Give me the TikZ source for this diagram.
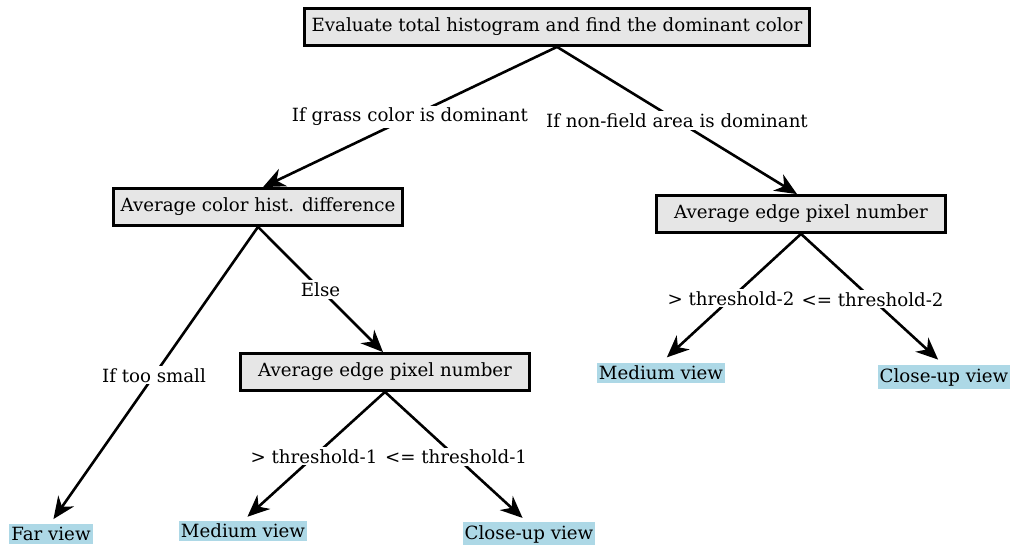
\documentclass[tikz,border=0pt]{standalone}
\usepackage{fontspec}
\setmainfont{DejaVu Serif}
\usetikzlibrary{arrows.meta}
\definecolor{boxgray}{HTML}{E6E6E6}
\definecolor{leafblue}{HTML}{ADD8E6}
\begin{document}
\begin{tikzpicture}[x=1pt,y=-1pt,
  font=\fontsize{18.2}{21}\selectfont,
  decision/.style={draw=black, line width=2.8pt, fill=boxgray, minimum height=37pt, inner xsep=7pt, inner ysep=2pt},
  leaf/.style={fill=leafblue, inner xsep=2pt, inner ysep=3pt},
  branch/.style={line width=2.6pt, -{Stealth[length=22pt,width=19pt,inset=7pt]}},
  cond/.style={fill=white, inner sep=2pt, pos=0.5}]
\useasboundingbox (0,0) rectangle (1011,545);

% decision boxes
\node[decision] (root)  at (557,27)  {Evaluate total histogram and find the dominant color};
\node[decision] (hist)  at (258,207) {Average color hist. difference};
\node[decision, minimum width=289pt] (edgeR) at (801,214) {Average edge pixel number};
\node[decision, minimum width=289pt] (edgeM) at (385,372) {Average edge pixel number};

% outcomes
\node[leaf] (far)   at (51,534)  {Far view};
\node[leaf] (medL)  at (243,531) {Medium view};
\node[leaf] (closeL) at (529,534) {Close-up view};
\node[leaf] (medR)  at (661,373) {Medium view};
\node[leaf] (closeR) at (944,377) {Close-up view};

% branches
\draw[branch] (root.south) -- ([xshift=5pt]hist.north) node[cond] {If grass color is dominant};
\draw[branch] (root.south) -- ([xshift=-4pt]edgeR.north) node[cond] {If non-field area is dominant};
\draw[branch, shorten >=6pt] (hist.south) -- ([xshift=-1pt]far.north) node[cond] {If too small};
\draw[branch] (hist.south) -- ([xshift=-2pt]edgeM.north) node[cond] {Else};
\draw[branch, shorten >=6pt] (edgeM.south) -- (medL.north) node[cond] {> threshold-1};
\draw[branch, shorten >=6pt] (edgeM.south) -- ([xshift=-2pt]closeL.north) node[cond] {<= threshold-1};
\draw[branch, shorten >=8pt] (edgeR.south) -- (medR.north) node[cond] {> threshold-2};
\draw[branch, shorten >=8pt] (edgeR.south) -- (closeR.north) node[cond] {<= threshold-2};
\end{tikzpicture}
\end{document}
